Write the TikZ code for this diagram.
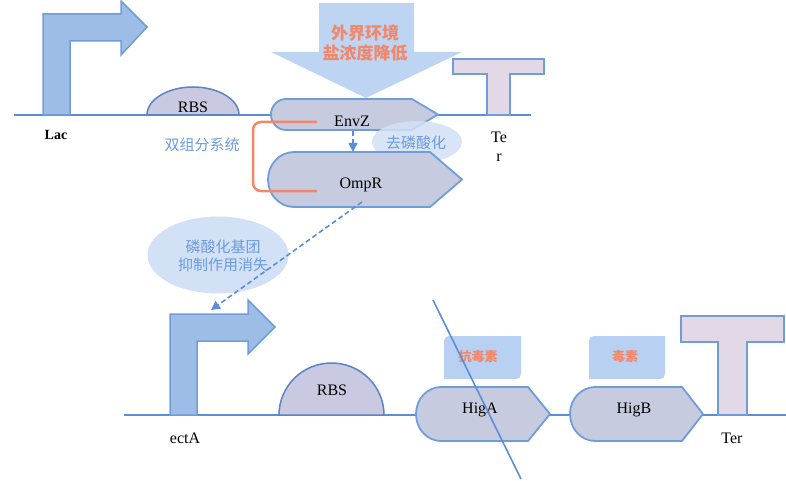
\documentclass[tikz,border=0pt]{standalone}
\usepackage{fontspec}
\setmainfont{Liberation Serif}
\newfontfamily\cjk{Noto Sans CJK SC}
\usetikzlibrary{arrows.meta,shapes.geometric}
\definecolor{dnablue}{HTML}{5B8ED8}
\definecolor{edgeblue}{HTML}{6E9DDA}
\definecolor{promfill}{HTML}{9DBCE6}
\definecolor{genefill}{HTML}{C6CBDF}
\definecolor{rbsfill}{HTML}{C9C9E1}
\definecolor{rbsedge}{HTML}{5A84C4}
\definecolor{terfill}{HTML}{E3D9E6}
\definecolor{bigarrow}{HTML}{BDD4F3}
\definecolor{salmon}{HTML}{F2876A}
\definecolor{txtblue}{HTML}{6B9BE0}
\definecolor{ellfill}{HTML}{D2E1F6}
\definecolor{boxfill}{HTML}{B8D1F3}
\tikzset{
  dna/.style={draw=dnablue, line width=2.5pt},
  promoter/.style={fill=promfill, draw=edgeblue, line width=1.5pt, line join=miter},
  gene/.style={fill=genefill, draw=edgeblue, line width=1.8pt, line join=round},
  rbs/.style={fill=rbsfill, draw=rbsedge, line width=1.5pt},
  term/.style={fill=terfill, draw=edgeblue, line width=2pt},
  lat/.style={font=\fontsize{16}{19}\selectfont, inner sep=0pt},
  cnblue/.style={font=\cjk\fontsize{15}{18}\selectfont, text=txtblue, inner sep=0pt, align=center},
  cnorange/.style={font=\cjk\bfseries\fontsize{13}{16}\selectfont, text=salmon, inner sep=0pt},
  bubble/.style={ellipse, fill=ellfill, inner sep=0pt},
  dashconn/.style={draw=dnablue, line width=1.6pt, dash pattern=on 5pt off 3pt, -{Triangle[length=9pt,width=9pt]}}
}
\begin{document}
\begin{tikzpicture}[x=1pt,y=-1pt]
\useasboundingbox (0,0) rectangle (786,481);

% big environmental arrow
\fill[bigarrow] (319,3) -- (414,3) -- (414,52) -- (462,52) -- (366,98) -- (271,52) -- (319,52) -- cycle;
\node[font=\cjk\bfseries\fontsize{17}{20}\selectfont, text=salmon, inner sep=0pt, align=center] (env) at (365,43) {外界环境\\盐浓度降低};

% DNA lines
\draw[dna] (14,115) -- (531,115);
\draw[dnablue, line width=2pt] (124,415) -- (786,415);

% Lac promoter
\draw[promoter] (43,115) -- (43,14) -- (121,14) -- (121,1) -- (147,27) -- (121,55) -- (121,41) -- (70,41) -- (70,115) -- cycle;
\node[font=\bfseries\fontsize{14}{16}\selectfont, inner sep=0pt] (lac) at (56,135) {Lac};

% RBS top
\draw[rbs] (147,115) .. controls (147,99.5) and (167.6,87) .. (193,87) .. controls (218.4,87) and (239,99.5) .. (239,115) -- cycle;
\node[lat] (rbs1) at (193,107) {RBS};

% Terminator top
\draw[term] (487,115) -- (487,74) -- (453,74) -- (453,59) -- (544,59) -- (544,74) -- (510,74) -- (510,115) -- cycle;
\node[lat, align=center] (ter1) at (499,147) {Te\\r};

% EnvZ
\draw[gene] (438,114.5) -- (412,130) -- (286,130) .. controls (277.7,130) and (271,123.1) .. (271,114.5) .. controls (271,105.9) and (277.7,99) .. (286,99) -- (412,99) -- cycle;
\node[lat] (envz) at (352,121) {EnvZ};
\coordinate (envzb) at (353,131);

% dephosphorylation bubble
\node[bubble, minimum width=90pt, minimum height=42pt, fill opacity=0.85, text opacity=1] (dephos) at (417,142) {};
\node[cnblue] (dephosT) at (416,143) {去磷酸化};

% OmpR
\draw[gene] (462,179.5) -- (430,207) -- (294,207) .. controls (279.6,207) and (268,194.7) .. (268,179.5) .. controls (268,164.3) and (279.6,152) .. (294,152) -- (430,152) -- cycle;
\node[lat] (ompr) at (361,185) {OmpR};
\coordinate (omprt) at (353,152);
\coordinate (omprb) at (362,202);

% two-component bracket
\draw[salmon, line width=2.5pt, rounded corners=8pt] (317,122) -- (253,122) -- (253,191) -- (317,191);
\node[cnblue] (tcs) at (202,145) {双组分系统};

% EnvZ -> OmpR
\draw[dashconn] (envzb) -- (omprt);

% phosphate bubble
\node[bubble, minimum width=141pt, minimum height=77pt] (phos) at (218,255) {};
\node[cnblue, font=\cjk\fontsize{15}{17.5}\selectfont] (phosT) at (223,256) {磷酸化基团\\抑制作用消失};

% ectA promoter
\draw[promoter] (170,415) -- (170,314) -- (248,314) -- (248,300) -- (275,327) -- (248,354) -- (248,341) -- (197,341) -- (197,415) -- cycle;
\node[lat] (ecta) at (185,438) {ectA};
\coordinate (ectaT) at (211,310);

% OmpR -> ectA
\draw[dashconn] (omprb) -- (ectaT);

% RBS bottom
\draw[rbs] (279,415) .. controls (279,386.3) and (302.5,363) .. (331.5,363) .. controls (360.5,363) and (384,386.3) .. (384,415) -- cycle;
\node[lat] (rbs2) at (332,390) {RBS};

% antitoxin / toxin boxes
\fill[boxfill] (449,336) -- (521,336) -- (521,374) .. controls (521,377) and (519,379) .. (516,379) -- (444,379) -- (444,341) .. controls (444,338) and (446,336) .. (449,336) -- cycle;
\node[cnorange] (antitox) at (478,357) {抗毒素};
\fill[boxfill] (594,336) -- (665,336) -- (665,374) .. controls (665,377) and (663,379) .. (660,379) -- (589,379) -- (589,341) .. controls (589,338) and (591,336) .. (594,336) -- cycle;
\node[cnorange] (tox) at (625,357) {毒素};

% HigA
\draw[gene] (550,414) -- (528,441) -- (441,441) .. controls (427.2,441) and (416,428.9) .. (416,414) .. controls (416,399.1) and (427.2,387) .. (441,387) -- (528,387) -- cycle;
\node[lat] (higa) at (480,410) {HigA};

% HigB
\draw[gene] (703,414) -- (682,441) -- (595,441) .. controls (581.2,441) and (570,428.9) .. (570,414) .. controls (570,399.1) and (581.2,387) .. (595,387) -- (682,387) -- cycle;
\node[lat] (higb) at (634,410) {HigB};

% Terminator bottom
\draw[term] (718,415) -- (718,342) -- (681,342) -- (681,316) -- (784,316) -- (784,342) -- (747,342) -- (747,415) -- cycle;
\node[lat] (ter2) at (732,438) {Ter};

% strike line
\coordinate (strikeA) at (433,300);
\coordinate (strikeB) at (521,479);
\draw[dnablue, line width=1.6pt] (strikeA) -- (strikeB);
\end{tikzpicture}
\end{document}
